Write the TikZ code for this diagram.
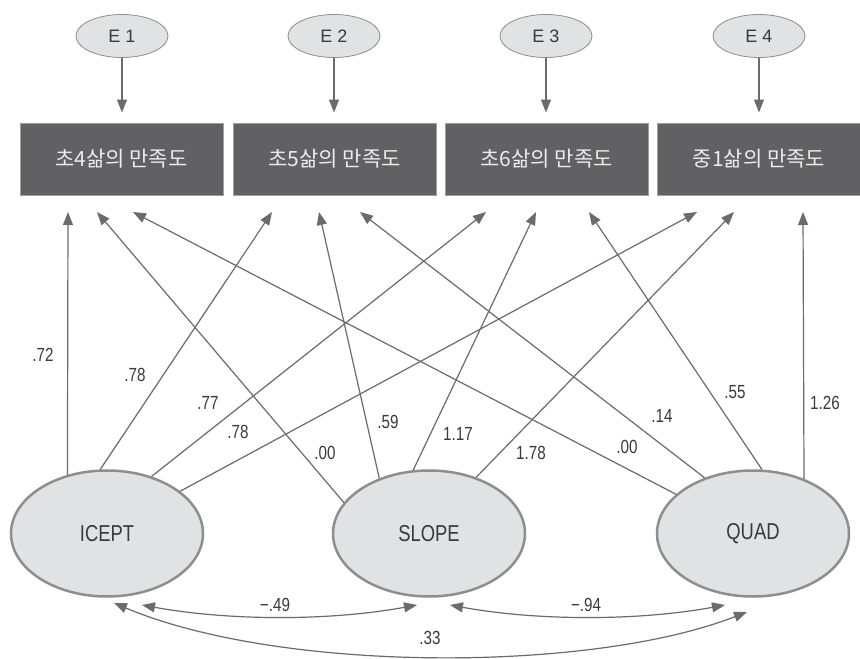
\documentclass[tikz,border=0pt]{standalone}
\usepackage{fontspec}
\setmainfont{Liberation Sans}
\newfontfamily\kr{Noto Sans CJK KR}
\newfontfamily\narrow[FakeStretch=0.8]{Liberation Sans}
\usetikzlibrary{shapes.geometric,arrows.meta}
\definecolor{lc}{HTML}{6B6B6E}
\definecolor{boxc}{HTML}{616164}
\definecolor{boxedge}{HTML}{A0A0A2}
\definecolor{boxtext}{HTML}{ECECEC}
\definecolor{ellc}{HTML}{E1E2E4}
\definecolor{ellb}{HTML}{8E8E90}
\definecolor{txtc}{HTML}{3A3A3C}
\tikzset{
  tip/.tip={Triangle[length=13pt,width=10pt]},
  ln/.style={draw=lc, line width=1.2pt, -tip},
  dbl/.style={draw=lc, line width=1.2pt, tip-tip},
  obs/.style={rectangle, fill=boxc, draw=boxedge, line width=1pt, minimum width=203pt, minimum height=72pt, inner sep=0pt, text=boxtext, font=\kr\fontsize{21}{25}\selectfont},
  err/.style={ellipse, fill=ellc, draw=ellb, line width=0.8pt, minimum width=92pt, minimum height=43pt, inner sep=0pt, text=txtc, font=\fontsize{18}{20}\selectfont},
  lat/.style={ellipse, fill=ellc, draw=ellb, line width=2.5pt, minimum width=192pt, minimum height=126pt, inner sep=0pt, text=txtc, font=\narrow\fontsize{23}{26}\selectfont},
  coef/.style={inner sep=0pt, text=txtc, font=\narrow\fontsize{19}{22}\selectfont}
}
\begin{document}
\begin{tikzpicture}[x=1pt,y=-1pt]
\useasboundingbox[fill=white] (0,0) rectangle (860,659);
% observed boxes
\node[obs] (b1) at (121.5,159) {초4삶의 만족도};
\node[obs] (b2) at (334.5,159) {초5삶의 만족도};
\node[obs] (b3) at (546.5,159) {초6삶의 만족도};
\node[obs] (b4) at (759,159) {중1삶의 만족도};
% errors
\node[err] (e1) at (122,36) {E 1};
\node[err] (e2) at (334,36) {E 2};
\node[err] (e3) at (546,36) {E 3};
\node[err] (e4) at (759,36) {E 4};
\foreach \i in {1,2,3,4} \draw[ln, shorten >=10pt] (e\i.south) -- (e\i.south |- b\i.north);
% latent
\node[lat] (ic) at (107,533.5) {ICEPT};
\node[lat] (sl) at (429,533.5) {SLOPE};
\node[lat] (qu) at (753,533.5) {QUAD};
% tips
\coordinate (ti1) at (68,212);  \coordinate (ti2) at (272,212);
\coordinate (ti3) at (486,212); \coordinate (ti4) at (697,212);
\coordinate (ts1) at (97,212);  \coordinate (ts2) at (319,212);
\coordinate (ts3) at (536,212); \coordinate (ts4) at (734,212);
\coordinate (tq1) at (133,212); \coordinate (tq2) at (360,212);
\coordinate (tq3) at (589,212); \coordinate (tq4) at (803,212);
\draw[ln] (ic.124) -- (ti1);
\draw[ln] (ic.96) -- (ti2);
\draw[ln] (ic.52) -- (ti3);
\draw[ln] (ic.30) -- (ti4);
\draw[ln] (sl.160.6) -- (ts1);
\draw[ln] (sl.132) -- (ts2);
\draw[ln] (sl.104) -- (ts3);
\draw[ln] (sl.50) -- (ts4);
\draw[ln] (qu.153) -- (tq1);
\draw[ln] (qu.131) -- (tq2);
\draw[ln] (qu.82) -- (tq3);
\draw[ln] (qu.47) -- (tq4);
% coefficients
\node[coef] at (43,355) {.72};
\node[coef] at (135,375) {.78};
\node[coef] at (208,403) {.77};
\node[coef] at (238,432) {.78};
\node[coef] at (325,453) {.00};
\node[coef] at (388,422) {.59};
\node[coef] at (458,434) {1.17};
\node[coef] at (531,453) {1.78};
\node[coef] at (627,447) {.00};
\node[coef] at (662,416) {.14};
\node[coef] at (735,392) {.55};
\node[coef] at (825,403) {1.26};
% covariances
\coordinate (c1a) at (142,605); \coordinate (c1b) at (417,605);
\coordinate (c2a) at (450,605); \coordinate (c2b) at (725,605);
\coordinate (c3a) at (114,603); \coordinate (c3b) at (747,612);
\draw[dbl] (c1a) .. controls (230,621) and (330,621) .. (c1b);
\draw[dbl] (c2a) .. controls (538,621) and (638,621) .. (c2b);
\draw[dbl] (c3a) .. controls (280,673) and (590,673) .. (c3b);
\node[coef] at (275,605) {−.49};
\node[coef] at (586,605) {−.94};
\node[coef] at (430,638) {.33};
\end{tikzpicture}
\end{document}
